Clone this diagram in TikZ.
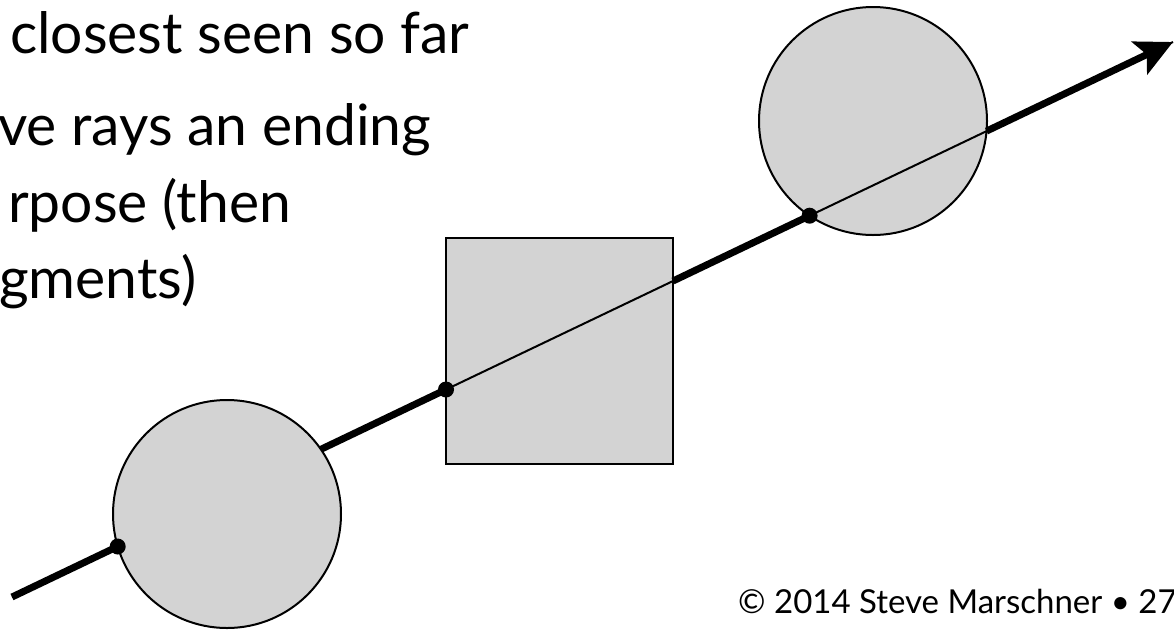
\documentclass[tikz,border=0pt]{standalone}
\usepackage{fontspec}
\setmainfont{Lato}
\usetikzlibrary{arrows.meta}
\definecolor{shapegray}{RGB}{211,211,211}
\tikzset{
  obj/.style={draw=black, line width=2pt, fill=shapegray, inner sep=0pt, outer sep=0pt},
  ballobj/.style={obj, circle, minimum size=228pt},
  boxobj/.style={obj, rectangle, minimum width=227pt, minimum height=226pt},
  thinray/.style={line width=2pt, black},
  thickray/.style={line width=7pt, black},
  hitdot/.style={circle, fill=black, inner sep=0pt, minimum size=16pt},
  bigtext/.style={anchor=base west, inner sep=0pt, font=\fontsize{57}{68}\selectfont},
  foottext/.style={anchor=base west, inner sep=0pt, font=\fontsize{33}{40}\selectfont}
}
\begin{document}
\begin{tikzpicture}[x=1pt, y=-1pt]
\useasboundingbox (0,0) rectangle (1174,630);
% text
\node[bigtext] (t1) at (10,53) {closest seen so far};
\node[bigtext] (t2) at (-2,145) {ve rays an ending};
\node[bigtext] (t3) at (8,222) {rpose (then};
\node[bigtext] (t4) at (-1,298) {gments)};
\node[foottext] (foot) at (738,613) {© 2014 Steve Marschner • 27};
% shapes crossed by the thin ray
\node[boxobj] (b) at (559.5,351) {};
\node[ballobj] (c3) at (873,121) {};
% ray points
\coordinate (start) at (12,597);
\coordinate (in1) at (117.7,546.5);
\coordinate (in2) at (446,389.5);
\coordinate (out2) at (673,281);
\coordinate (in3) at (809.6,215.7);
\coordinate (out3) at (986.5,131.1);
\coordinate (tip) at (1173,42);
% ray
\draw[thinray] (start) -- (tip);
\draw[thickray] (start) -- (in2);
\draw[thickray] (out2) -- (in3);
\draw[thickray, -{Stealth[length=37pt, width=36pt, inset=8pt]}] (out3) -- (tip);
% first sphere covers the ray
\node[ballobj] (c1) at (227,514) {};
\node[hitdot] (d1) at (in1) {};
\node[hitdot] (d2) at (in2) {};
\node[hitdot] (d3) at (in3) {};
\end{tikzpicture}
\end{document}
